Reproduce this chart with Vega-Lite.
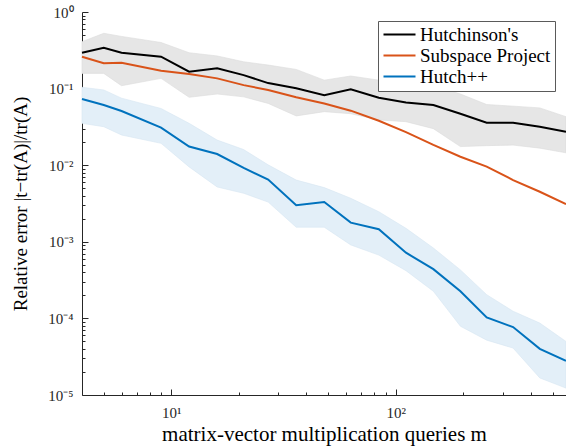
{
  "$schema": "https://vega.github.io/schema/vega-lite/v6.json",
  "width": 484,
  "height": 383,
  "autosize": "none",
  "padding": {"left": 82, "top": 12, "right": 0, "bottom": 51},
  "background": "white",
  "data": {
    "values": [
      {"m": 4, "method": "Hutchinson's", "err": 0.294, "lo": 0.158, "hi": 0.41},
      {"m": 5, "method": "Hutchinson's", "err": 0.342, "lo": 0.158, "hi": 0.527},
      {"m": 6, "method": "Hutchinson's", "err": 0.294, "lo": 0.109, "hi": 0.48},
      {"m": 9, "method": "Hutchinson's", "err": 0.261, "lo": 0.136, "hi": 0.40},
      {"m": 12, "method": "Hutchinson's", "err": 0.166, "lo": 0.077, "hi": 0.294},
      {"m": 16, "method": "Hutchinson's", "err": 0.184, "lo": 0.085, "hi": 0.267},
      {"m": 21, "method": "Hutchinson's", "err": 0.150, "lo": 0.078, "hi": 0.224},
      {"m": 27, "method": "Hutchinson's", "err": 0.118, "lo": 0.064, "hi": 0.203},
      {"m": 36, "method": "Hutchinson's", "err": 0.101, "lo": 0.044, "hi": 0.178},
      {"m": 48, "method": "Hutchinson's", "err": 0.082, "lo": 0.050, "hi": 0.129},
      {"m": 63, "method": "Hutchinson's", "err": 0.098, "lo": 0.047, "hi": 0.146},
      {"m": 84, "method": "Hutchinson's", "err": 0.076, "lo": 0.039, "hi": 0.129},
      {"m": 111, "method": "Hutchinson's", "err": 0.066, "lo": 0.037, "hi": 0.123},
      {"m": 147, "method": "Hutchinson's", "err": 0.061, "lo": 0.030, "hi": 0.111},
      {"m": 194, "method": "Hutchinson's", "err": 0.047, "lo": 0.0175, "hi": 0.085},
      {"m": 254, "method": "Hutchinson's", "err": 0.0359, "lo": 0.018, "hi": 0.062},
      {"m": 333, "method": "Hutchinson's", "err": 0.0359, "lo": 0.0183, "hi": 0.059},
      {"m": 438, "method": "Hutchinson's", "err": 0.0318, "lo": 0.0167, "hi": 0.056},
      {"m": 573, "method": "Hutchinson's", "err": 0.0274, "lo": 0.0145, "hi": 0.043},
      {"m": 4, "method": "Subspace Project", "err": 0.261},
      {"m": 5, "method": "Subspace Project", "err": 0.214},
      {"m": 6, "method": "Subspace Project", "err": 0.218},
      {"m": 9, "method": "Subspace Project", "err": 0.171},
      {"m": 12, "method": "Subspace Project", "err": 0.155},
      {"m": 16, "method": "Subspace Project", "err": 0.136},
      {"m": 21, "method": "Subspace Project", "err": 0.111},
      {"m": 27, "method": "Subspace Project", "err": 0.096},
      {"m": 36, "method": "Subspace Project", "err": 0.077},
      {"m": 48, "method": "Subspace Project", "err": 0.064},
      {"m": 63, "method": "Subspace Project", "err": 0.0515},
      {"m": 84, "method": "Subspace Project", "err": 0.038},
      {"m": 111, "method": "Subspace Project", "err": 0.027},
      {"m": 147, "method": "Subspace Project", "err": 0.0184},
      {"m": 194, "method": "Subspace Project", "err": 0.0129},
      {"m": 254, "method": "Subspace Project", "err": 0.0096},
      {"m": 333, "method": "Subspace Project", "err": 0.0064},
      {"m": 438, "method": "Subspace Project", "err": 0.0045},
      {"m": 573, "method": "Subspace Project", "err": 0.0031},
      {"m": 4, "method": "Hutch++", "err": 0.073, "lo": 0.0352, "hi": 0.104},
      {"m": 5, "method": "Hutch++", "err": 0.061, "lo": 0.0318, "hi": 0.096},
      {"m": 6, "method": "Hutch++", "err": 0.051, "lo": 0.0248, "hi": 0.075},
      {"m": 9, "method": "Hutch++", "err": 0.031, "lo": 0.0193, "hi": 0.055},
      {"m": 12, "method": "Hutch++", "err": 0.0175, "lo": 0.0095, "hi": 0.0352},
      {"m": 16, "method": "Hutch++", "err": 0.014, "lo": 0.0052, "hi": 0.0213},
      {"m": 21, "method": "Hutch++", "err": 0.0092, "lo": 0.0043, "hi": 0.016},
      {"m": 27, "method": "Hutch++", "err": 0.0065, "lo": 0.0033, "hi": 0.0101},
      {"m": 36, "method": "Hutch++", "err": 0.0030, "lo": 0.00155, "hi": 0.0064},
      {"m": 48, "method": "Hutch++", "err": 0.0033, "lo": 0.00155, "hi": 0.0051},
      {"m": 63, "method": "Hutch++", "err": 0.00178, "lo": 0.00091, "hi": 0.0037},
      {"m": 84, "method": "Hutch++", "err": 0.00146, "lo": 0.00067, "hi": 0.00247},
      {"m": 111, "method": "Hutch++", "err": 0.00072, "lo": 0.00042, "hi": 0.0015},
      {"m": 147, "method": "Hutch++", "err": 0.00044, "lo": 0.000226, "hi": 0.00083},
      {"m": 194, "method": "Hutch++", "err": 0.000226, "lo": 0.000079, "hi": 0.00043},
      {"m": 254, "method": "Hutch++", "err": 0.000103, "lo": 0.000052, "hi": 0.000204},
      {"m": 333, "method": "Hutch++", "err": 0.000077, "lo": 0.000041, "hi": 0.000124},
      {"m": 438, "method": "Hutch++", "err": 0.000040, "lo": 0.0000167, "hi": 0.000087},
      {"m": 573, "method": "Hutch++", "err": 0.000028, "lo": 0.0000123, "hi": 0.000050}
    ]
  },
  "encoding": {
    "x": {
      "field": "m",
      "type": "quantitative",
      "scale": {"type": "log", "domain": [4, 573], "nice": false},
      "axis": {
        "title": "matrix-vector multiplication queries m",
        "values": [5, 6, 7, 8, 9, 10, 20, 30, 40, 50, 60, 70, 80, 90, 100, 200, 300, 400, 500],
        "labelExpr": "abs(log(datum.value)/LN10 - round(log(datum.value)/LN10)) < 1e-6 ? '10' + ['⁰','¹','²','³','⁴','⁵'][abs(round(log(datum.value)/LN10))] : ''",
        "tickSize": -6,
        "tickDash": {"condition": {"test": "abs(log(datum.value)/LN10 - round(log(datum.value)/LN10)) < 1e-6", "value": [6, 0]}, "value": [3, 20]},
        "labelPadding": 16,
        "labelOverlap": false,
        "labelFlush": false,
        "titleFontSize": 21,
        "titleY": 45,
        "titleBaseline": "alphabetic"
      }
    },
    "y": {
      "field": "err",
      "type": "quantitative",
      "scale": {"type": "log", "domain": [0.00001, 1], "nice": false},
      "axis": {
        "title": "Relative error  |t−tr(A)|/tr(A)",
        "values": [0.00001, 0.00002, 0.00003, 0.00004, 0.00005, 0.00006, 0.00007, 0.00008, 0.00009, 0.0001, 0.0002, 0.0003, 0.0004, 0.0005, 0.0006, 0.0007, 0.0008, 0.0009, 0.001, 0.002, 0.003, 0.004, 0.005, 0.006, 0.007, 0.008, 0.009, 0.01, 0.02, 0.03, 0.04, 0.05, 0.06, 0.07, 0.08, 0.09, 0.1, 0.2, 0.3, 0.4, 0.5, 0.6, 0.7, 0.8, 0.9, 1],
        "labelExpr": "abs(log(datum.value)/LN10 - round(log(datum.value)/LN10)) < 1e-6 ? '10' + (round(log(datum.value)/LN10) < 0 ? '⁻' : '') + ['⁰','¹','²','³','⁴','⁵'][abs(round(log(datum.value)/LN10))] : ''",
        "tickSize": -6,
        "tickDash": {"condition": {"test": "abs(log(datum.value)/LN10 - round(log(datum.value)/LN10)) < 1e-6", "value": [6, 0]}, "value": [3, 20]},
        "labelPadding": 15,
        "labelOverlap": false,
        "titleFontSize": 19,
        "titleX": -62,
        "titleY": 191.5,
        "titleAngle": 270,
        "titleAlign": "center",
        "titleBaseline": "middle"
      }
    }
  },
  "layer": [
    {
      "transform": [{"filter": "datum.method === \"Hutchinson's\""}],
      "mark": {"type": "area", "color": "#e6e6e6", "stroke": "#dcdcdc", "strokeWidth": 0.6},
      "encoding": {"y": {"field": "lo", "type": "quantitative"}, "y2": {"field": "hi"}}
    },
    {
      "transform": [{"filter": "datum.method === 'Hutch++'"}],
      "mark": {"type": "area", "color": "#e3eff8", "stroke": "#d6e6f2", "strokeWidth": 0.6},
      "encoding": {"y": {"field": "lo", "type": "quantitative"}, "y2": {"field": "hi"}}
    },
    {
      "mark": {"type": "line", "strokeWidth": 2},
      "encoding": {
        "color": {
          "field": "method",
          "type": "nominal",
          "sort": ["Hutchinson's", "Subspace Project", "Hutch++"],
          "scale": {"domain": ["Hutchinson's", "Subspace Project", "Hutch++"], "range": ["#000000", "#D95319", "#0072BD"]},
          "legend": {
            "title": null,
            "orient": "none",
            "legendX": 296,
            "legendY": 9,
            "symbolType": "M-2,0H2",
            "symbolSize": 256,
            "symbolOffset": 8,
            "symbolStrokeWidth": 2.2,
            "labelFont": "Liberation Serif",
            "labelFontSize": 19,
            "labelColor": "#000000",
            "labelOffset": 11,
            "rowPadding": 1,
            "padding": 4,
            "strokeColor": "#5a5a5a",
            "fillColor": "#ffffff"
          }
        }
      }
    }
  ],
  "config": {
    "view": {"stroke": null},
    "axis": {
      "grid": false,
      "domainColor": "#262626",
      "tickColor": "#262626",
      "labelColor": "#262626",
      "labelFont": "Liberation Serif",
      "labelFontSize": 15,
      "titleFont": "Liberation Serif",
      "titleFontWeight": "normal",
      "titleFontSize": 20,
      "titleColor": "#000000"
    }
  }
}
